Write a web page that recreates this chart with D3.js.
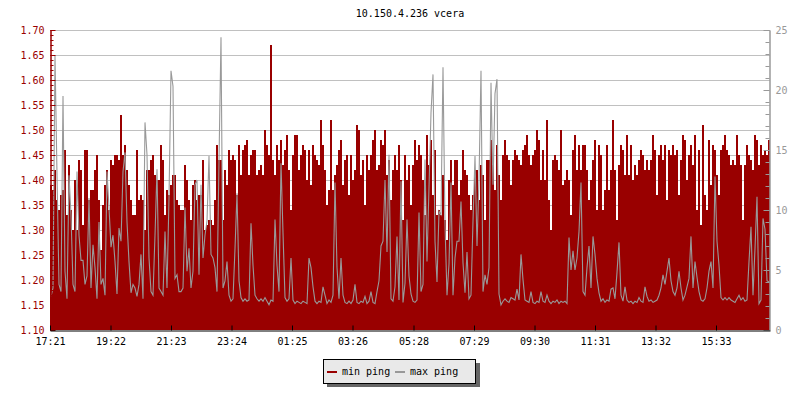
<!DOCTYPE html>
<html><head><meta charset="utf-8">
<script src="https://cdn.jsdelivr.net/npm/d3@7"></script>
<style>
body{margin:0;background:#fff}
svg{display:block}
text{font-family:"DejaVu Sans Mono",monospace;font-size:10px}
</style>
</head><body>
<svg id="chart" width="800" height="400"></svg>
<script>
const title = "10.150.4.236 vcera";
const startTime = "17:21";
const spanMinutes = 1440;
const stepMinutes = 4;
const timeLabels = ["17:21","19:22","21:23","23:24","01:25","03:26","05:28","07:29","09:30","11:31","13:32","15:33"];
const leftTicks = [1.10,1.15,1.20,1.25,1.30,1.35,1.40,1.45,1.50,1.55,1.60,1.65,1.70];
const rightTicks = [0,5,10,15,20,25];
const seriesNames = ["min ping","max ping"];

// min ping (left axis, ms) — one value per 4 minutes
const minPing = [
1.39,1.38,1.42,1.36,1.34,1.37,1.38,1.46,1.33,1.43,
1.34,1.30,1.40,1.30,1.44,1.42,1.31,1.46,1.46,1.36,
1.38,1.38,1.42,1.45,1.36,1.26,1.35,1.39,1.42,1.34,
1.44,1.43,1.45,1.45,1.44,1.53,1.45,1.47,1.42,1.39,
1.36,1.33,1.33,1.46,1.36,1.37,1.36,1.30,1.42,1.42,
1.44,1.45,1.41,1.40,1.40,1.47,1.44,1.33,1.38,1.37,
1.39,1.41,1.41,1.36,1.35,1.34,1.34,1.43,1.40,1.36,
1.32,1.39,1.40,1.36,1.37,1.37,1.44,1.30,1.31,1.32,
1.32,1.31,1.36,1.47,1.44,1.44,1.32,1.42,1.39,1.46,
1.44,1.45,1.44,1.37,1.47,1.41,1.46,1.47,1.48,1.41,
1.45,1.46,1.46,1.41,1.42,1.43,1.41,1.50,1.47,1.45,
1.67,1.44,1.41,1.47,1.44,1.48,1.43,1.46,1.49,1.42,
1.34,1.45,1.49,1.49,1.42,1.45,1.47,1.46,1.40,1.46,
1.39,1.47,1.45,1.44,1.43,1.52,1.47,1.42,1.35,1.38,
1.52,1.38,1.41,1.43,1.46,1.48,1.39,1.44,1.45,1.37,
1.45,1.40,1.42,1.51,1.50,1.41,1.44,1.35,1.45,1.42,
1.45,1.48,1.50,1.42,1.43,1.48,1.47,1.50,1.41,1.44,
1.36,1.42,1.45,1.42,1.47,1.40,1.32,1.45,1.40,1.43,
1.35,1.43,1.48,1.44,1.47,1.45,1.40,1.33,1.49,1.43,
1.48,1.37,1.46,1.33,1.34,1.33,1.41,1.32,1.28,1.40,
1.44,1.39,1.44,1.44,1.37,1.40,1.46,1.42,1.41,1.37,
1.34,1.37,1.42,1.42,1.36,1.43,1.41,1.32,1.44,1.44,
1.48,1.43,1.38,1.47,1.41,1.36,1.45,1.48,1.45,1.44,
1.39,1.44,1.46,1.45,1.44,1.43,1.46,1.47,1.49,1.45,
1.43,1.45,1.46,1.50,1.48,1.40,1.46,1.40,1.52,1.36,
1.30,1.44,1.45,1.44,1.42,1.50,1.39,1.40,1.42,1.40,
1.33,1.46,1.49,1.42,1.47,1.42,1.47,1.47,1.42,1.36,
1.40,1.44,1.48,1.34,1.47,1.45,1.34,1.38,1.47,1.38,
1.42,1.52,1.42,1.32,1.43,1.47,1.46,1.41,1.49,1.41,
1.47,1.40,1.43,1.41,1.44,1.46,1.45,1.42,1.44,1.42,
1.44,1.49,1.46,1.37,1.45,1.47,1.44,1.47,1.36,1.46,
1.45,1.47,1.45,1.46,1.37,1.44,1.49,1.48,1.40,1.45,
1.47,1.43,1.49,1.34,1.46,1.31,1.51,1.37,1.34,1.48,
1.39,1.47,1.46,1.41,1.37,1.46,1.47,1.49,1.46,1.45,
1.43,1.44,1.43,1.49,1.45,1.43,1.32,1.43,1.47,1.45,
1.44,1.42,1.49,1.48,1.43,1.47,1.45,1.46,1.45,1.48
];

// max ping (right axis, ms)
const maxPing = [
2.8,3.5,22.9,12.9,3.8,3.2,19.5,4.9,2.6,12.9,
9.6,3.8,3.2,13.2,7.9,5.8,5.8,3.8,4.5,11.0,
3.5,7.1,5.2,2.6,9.0,3.8,4.3,2.9,13.2,10.2,
6.9,7.9,5.7,3.0,8.5,7.4,13.2,14.8,9.0,5.7,
3.1,3.8,3.5,2.8,3.8,6.3,2.6,17.3,14.6,6.0,
3.2,2.9,7.9,13.4,3.5,3.2,2.9,8.2,3.5,11.0,
21.6,20.3,4.3,4.6,3.2,3.2,3.5,10.2,4.9,6.8,
3.5,4.9,12.1,12.5,4.6,12.1,6.0,7.9,9.1,14.5,
6.3,6.0,5.2,3.2,14.1,24.4,3.5,4.1,5.7,2.9,
2.4,2.6,6.8,11.4,4.1,2.7,2.4,2.6,2.4,2.5,
8.9,5.4,2.9,2.6,2.4,2.6,2.4,2.7,2.4,2.1,
2.5,2.4,9.2,5.4,3.2,13.9,8.1,2.7,2.4,2.6,
6.0,2.5,2.2,2.4,2.3,2.2,2.4,2.3,2.2,6.0,
5.2,3.6,2.4,2.2,2.4,2.3,3.6,2.9,2.2,2.5,
2.3,2.9,12.3,5.2,2.6,6.0,2.9,2.3,2.2,2.4,
2.2,2.5,3.8,2.3,2.2,2.4,2.3,2.8,2.2,2.4,
3.2,2.3,2.2,3.2,4.1,7.0,7.4,12.5,6.5,14.6,
2.6,2.4,3.6,7.8,2.5,12.4,2.3,3.9,9.2,4.5,
3.0,2.4,2.3,2.5,9.8,3.2,3.8,14.2,5.7,11.9,
18.1,21.3,7.4,4.0,9.9,9.6,21.9,8.8,2.9,5.5,
12.3,2.9,6.0,7.4,7.4,10.7,5.6,3.1,6.5,2.6,
2.9,9.1,14.5,7.0,12.5,21.6,3.2,4.6,3.8,5.2,
20.6,12.1,19.7,20.9,3.0,2.1,2.4,2.6,2.4,2.3,
2.7,2.6,2.5,3.4,2.5,6.3,4.2,2.5,2.4,2.3,
3.2,2.3,2.2,2.4,2.3,3.2,2.4,2.3,2.9,2.4,
2.2,2.4,2.3,2.5,2.2,2.4,2.3,2.4,2.2,7.7,
5.0,6.6,5.0,6.0,8.2,12.3,3.2,2.9,5.2,7.0,
3.5,7.8,6.3,4.3,3.1,2.4,2.6,2.3,2.5,2.4,
3.4,3.5,2.6,4.8,7.3,2.9,2.4,3.6,2.5,2.3,
2.4,2.2,2.4,2.3,2.7,2.4,2.3,3.6,2.8,2.4,
2.5,2.3,2.4,2.5,2.9,3.5,4.6,3.8,4.9,6.0,
4.1,3.2,2.9,3.5,4.9,3.5,2.5,2.9,3.6,4.3,
7.8,3.5,5.7,4.4,3.2,2.5,2.4,2.6,3.5,4.9,
5.7,3.5,12.8,7.4,5.4,2.7,2.5,2.7,2.5,2.7,
2.5,2.4,2.3,2.6,2.9,2.5,2.7,2.4,2.5,5.7,
8.6,2.9,6.8,11.1,2.2,2.5,9.3,8.4,4.1,4.0
];

const RED = "#990000", GRAY = "#999999", GRID = "#c0c0c0";
const M = {left:50, right:770, top:30, bottom:330};
const svg = d3.select("#chart");

const x = d3.scaleLinear().domain([0, spanMinutes]).range([M.left, M.right]);
const yL = d3.scaleLinear().domain([1.10, 1.70]).range([M.bottom, M.top]);
const yR = d3.scaleLinear().domain([0, 25]).range([M.bottom, M.top]);

const toMin = s => { const [h,m] = s.split(":").map(Number); return h*60+m; };
const t0 = toMin(startTime);
const tickMinutes = timeLabels.map(s => (toMin(s) - t0 + 1440) % 1440);

// title
svg.append("text").attr("x", (M.left+M.right)/2).attr("y", 17)
  .attr("text-anchor","middle").attr("fill","#000").text(title);

// grid
svg.append("g").selectAll("line").data(leftTicks.filter(v => v > 1.10)).join("line")
  .attr("x1", M.left).attr("x2", M.right)
  .attr("y1", d => Math.round(yL(d)) + 0.5).attr("y2", d => Math.round(yL(d)) + 0.5)
  .attr("stroke", GRID).attr("stroke-width", 1);

// min ping area (stepped)
const minData = minPing.map((v,i) => ({t: i*stepMinutes, v}));
minData.push({t: minPing.length*stepMinutes, v: minPing[minPing.length-1]});
svg.append("path").datum(minData)
  .attr("d", d3.area().curve(d3.curveStepAfter)
    .x(d => x(d.t)).y0(M.bottom).y1(d => yL(d.v)))
  .attr("fill", RED);

// max ping line
svg.append("path").datum(maxPing.map((v,i) => ({t: i*stepMinutes + stepMinutes/2, v})))
  .attr("d", d3.line().x(d => x(d.t)).y(d => yR(d.v)))
  .attr("fill","none").attr("stroke", GRAY).attr("stroke-width", 1.1);

// left axis (minor + major)
const gL = svg.append("g").attr("transform", `translate(${M.left + 0.5},0)`);
gL.call(d3.axisLeft(yL).tickValues(d3.range(110,171).map(d => d/100)).tickSizeInner(-3).tickSizeOuter(0).tickFormat(""));
gL.call(g => g.selectAll("text").remove());
const gL2 = svg.append("g").attr("transform", `translate(${M.left + 0.5},0)`);
gL2.call(d3.axisLeft(yL).tickValues(leftTicks).tickSizeInner(-5).tickSizeOuter(0).tickPadding(6).tickFormat(d3.format(".2f")));
[gL, gL2].forEach(g => {
  g.selectAll("path,line").attr("stroke", RED);
  g.selectAll("text").attr("fill", RED).style("font-size","10px").style("font-family","'DejaVu Sans Mono',monospace");
});

// right axis
const gR = svg.append("g").attr("transform", `translate(${M.right - 0.5},0)`);
gR.call(d3.axisRight(yR).tickValues(d3.range(0,26)).tickSizeInner(-4).tickSizeOuter(0).tickFormat(""));
gR.call(g => g.selectAll("text").remove());
const gR2 = svg.append("g").attr("transform", `translate(${M.right - 0.5},0)`);
gR2.call(d3.axisRight(yR).tickValues(rightTicks).tickSizeInner(-6).tickSizeOuter(0).tickPadding(6).tickFormat(d3.format("d")));
[gR, gR2].forEach(g => {
  g.selectAll("path,line").attr("stroke", GRAY);
  g.selectAll("text").attr("fill", GRAY).style("font-size","10px").style("font-family","'DejaVu Sans Mono',monospace");
});

// bottom axis
const gB = svg.append("g").attr("transform", `translate(0,${M.bottom + 0.5})`);
gB.call(d3.axisBottom(x).tickValues(tickMinutes).tickSizeInner(-5).tickSizeOuter(0).tickPadding(7)
  .tickFormat((d,i) => timeLabels[i]));
gB.selectAll("path,line").attr("stroke","#000");
gB.selectAll("text").attr("fill","#000").style("font-size","10px").style("font-family","'DejaVu Sans Mono',monospace");

// legend
const lg = svg.append("g");
lg.append("rect").attr("x",327).attr("y",363).attr("width",153).attr("height",24).attr("fill","#666");
lg.append("rect").attr("x",323.5).attr("y",359.5).attr("width",152).attr("height",24)
  .attr("fill","#e9e9e9").attr("stroke","#000").attr("stroke-width",1);
const legendX = [327, 395];
const colors = [RED, GRAY];
seriesNames.forEach((name, i) => {
  lg.append("rect").attr("x", legendX[i]).attr("y", 371).attr("width", 10).attr("height", 2).attr("fill", colors[i]);
  lg.append("text").attr("x", legendX[i] + 15).attr("y", 375).attr("fill","#000").text(name);
});
</script>
</body></html>
